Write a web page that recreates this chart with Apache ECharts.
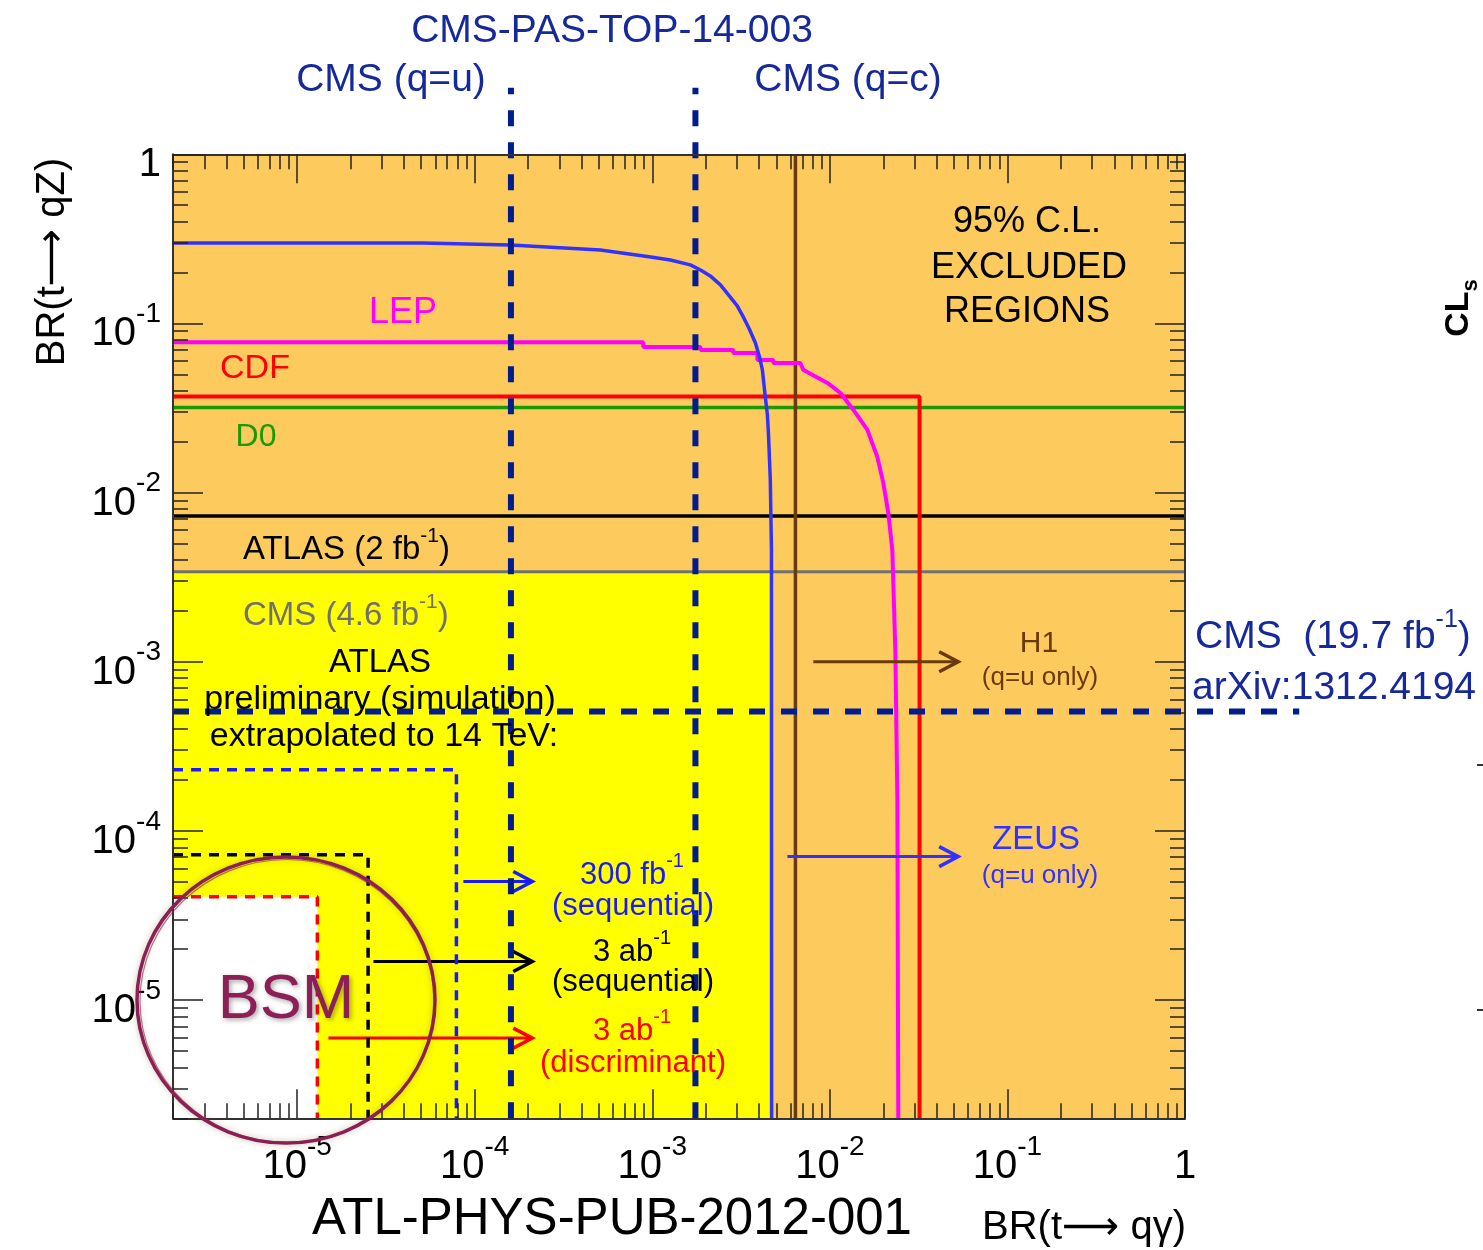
<!DOCTYPE html>
<html><head><meta charset="utf-8">
<script src="https://cdn.jsdelivr.net/npm/echarts@6/dist/echarts.min.js"></script>
<style>html,body{margin:0;padding:0;background:#fff}#c{width:1483px;height:1250px}</style>
</head><body><div id="c"></div>
<script>
// ---------- data (raw values, axes are log10) ----------
const xRange = [2e-6, 1];
const yRange = [2e-6, 1];
const tickExponents = [-5, -4, -3, -2, -1, 0];

const blueLimit = [[2e-6,0.299],[5.1e-5,0.299],[1.59e-4,0.291],[5.1e-4,0.272],[9.8e-4,0.247],[1.265e-3,0.237],[1.638e-3,0.222],[1.87e-3,0.207],[2.12e-3,0.191],[2.42e-3,0.169],[2.75e-3,0.143],[3.01e-3,0.1269],[3.26e-3,0.109],[3.52e-3,0.0928],[3.81e-3,0.0767],[4.01e-3,0.0638],[4.17e-3,0.0531],[4.33e-3,0.0368],[4.45e-3,0.0288],[4.51e-3,0.0225],[4.62e-3,0.0119],[4.69e-3,4.6e-3],[4.7e-3,2e-6]];
const lepLimit = [[2e-6,0.0774],[8.9e-4,0.0774],[8.9e-4,0.0726],[1.87e-3,0.0726],[1.87e-3,0.0697],[2.86e-3,0.0697],[2.86e-3,0.0669],[3.91e-3,0.0669],[3.91e-3,0.0609],[4.81e-3,0.0609],[4.81e-3,0.0584],[6.82e-3,0.0584],[7.1e-3,0.0531],[9.7e-3,0.0445],[0.01148,0.0388],[0.01358,0.0308],[0.01627,0.0235],[0.01851,0.01626],[0.0200,0.01141],[0.02134,7.59e-3],[0.02248,4.58e-3],[0.02338,1.17e-3],[0.0240,1.53e-4],[0.02429,2e-6]];
const cdfLimit = [[2e-6,0.037],[0.032,0.037],[0.032,2e-6]];
const d0Limit = [[2e-6,0.0318],[1,0.0318]];
const atlas2Limit = [[2e-6,7.28e-3],[1,7.28e-3]];
const cms46Limit = [[2e-6,3.41e-3],[1,3.41e-3]];
const h1Limit = [[6.4e-3,2e-6],[6.4e-3,1]];

const atlas300Box = [[2e-6,2.30e-4],[7.89e-5,2.30e-4],[7.89e-5,2e-6]];
const atlas3abSeqBox = [[2e-6,7.22e-5],[2.51e-5,7.22e-5],[2.51e-5,2e-6]];
const atlas3abDiscBox = [[2e-6,4.08e-5],[1.30e-5,4.08e-5],[1.30e-5,2e-6]];

// CMS 19.7 fb-1 limits: [x1, y1, x2, y2]
const cmsQuLimit = [1.60e-4, 2e-6, 1.60e-4, 2.47];
const cmsQcLimit = [1.75e-3, 2e-6, 1.75e-3, 2.47];
const cms197Limit = [2e-6, 5.08e-4, 4.4, 5.08e-4];

const allowedRegion = [2e-6,2e-6,4.69e-3,3.41e-3];
const bsmRegion = [2e-6,2e-6,1.30e-5,4.08e-5];

// arrows: [xStart, xEnd, y]
const h1Arrow = [8.07e-3, 0.0528, 1e-3];
const zeusArrow = [5.77e-3, 0.0528, 7.05e-5];
const arrow300 = [8.63e-5, 2.11e-4, 5.02e-5];
const arrow3abSeq = [2.69e-5, 2.11e-4, 1.69e-5];
const arrow3abDisc = [1.50e-5, 2.11e-4, 5.96e-6];

// ---------- helpers ----------
const L = Math.log10;
const LX0 = L(xRange[0]), LX1 = L(xRange[1]);
const LY0 = L(yRange[0]), LY1 = L(yRange[1]);
const FONT = 'Liberation Sans';
const ARROWFONT = '"Liberation Sans", "DejaVu Sans", sans-serif';
const majorLog = tickExponents.slice();
const minorLog = [];
for (let n = -6; n <= -1; n++) for (let k = 2; k <= 9; k++) {
  const v = L(k) + n; if (v >= LX0 - 1e-9 && v < 0) minorLog.push(v);
}
const toLog = pts => pts.map(p => [L(p[0]), L(p[1])]);

const C = {
  orange:'#FDCA5E', yellow:'#FFFF00', navy:'#001C8E', navyText:'#16299A',
  blue:'#3232FF', magenta:'#FF00FF', red:'#FF0000', green:'#1A9A00',
  gray:'#707070', brown:'#6B3A0C', bsm:'#8C1F56'
};

function lineS(name, pts, color, width, extra) {
  return Object.assign({
    type:'line', name, data: toLog(pts), symbol:'none', showSymbol:false,
    lineStyle:{color, width}, itemStyle:{color}, animation:false, silent:true, z:3
  }, extra || {});
}

const labelRich = {
  b:{fontSize:40, fontFamily:FONT, color:'#000', lineHeight:54, verticalAlign:'bottom'},
  s:{fontSize:28, fontFamily:FONT, color:'#000', lineHeight:28, verticalAlign:'top'}
};
const labelFmt = v => {
  const e = Math.round(v);
  return e === 0 ? '{b|1}' : '{b|10}{s|' + e + '}';
};

function axisBase(min, max, pos, ticks, len, showLine, label) {
  return {
    type:'value', position:pos, min, max, z:6,
    axisLine:{show:showLine, onZero:false, lineStyle:{color:'#333', width:2}},
    axisTick:{show:true, inside:true, length:len, customValues:ticks, lineStyle:{color:'#222', width:1.5}},
    axisLabel: label || {show:false},
    splitLine:{show:false}, minorTick:{show:false}, minorSplitLine:{show:false}
  };
}

const xLabel = {show:true, customValues:majorLog, formatter:labelFmt, rich:labelRich, margin:15, showMinLabel:true, showMaxLabel:true, hideOverlap:false};
const yLabel = {show:true, customValues:majorLog, formatter:labelFmt, rich:labelRich, margin:12, padding:[8,0,0,0], showMinLabel:true, showMaxLabel:true, hideOverlap:false};

function rectItem(params, api) {
  const p0 = api.coord([api.value(0), api.value(1)]);
  const p1 = api.coord([api.value(2), api.value(3)]);
  return {type:'rect', shape:{x:Math.min(p0[0],p1[0]), y:Math.min(p0[1],p1[1]), width:Math.abs(p1[0]-p0[0]), height:Math.abs(p1[1]-p0[1])}, style:{fill:api.visual('color')}};
}
function segItem(params, api) {
  const a = api.coord([api.value(0), api.value(1)]);
  const b = api.coord([api.value(2), api.value(3)]);
  return {type:'line', shape:{x1:a[0], y1:a[1], x2:b[0], y2:b[1]}, style:{stroke:api.visual('color'), lineWidth:6, lineDash:[16,16]}};
}
function arrowItem(params, api) {
  const y = api.value(2);
  const a = api.coord([api.value(0), y]);
  const b = api.coord([api.value(1), y]);
  const c = api.visual('color');
  return {type:'group', children:[
    {type:'line', shape:{x1:a[0], y1:a[1], x2:b[0]-2, y2:b[1]}, style:{stroke:c, lineWidth:3}},
    {type:'polyline', shape:{points:[[b[0]-19,b[1]-10],[b[0],b[1]],[b[0]-19,b[1]+10]]}, style:{stroke:c, lineWidth:3.5, fill:null}}
  ]};
}

function txt(x, y, text, size, color, align, extra) {
  return Object.assign({type:'text', x, y, z:100, silent:true,
    style:{text, fill:color, fontSize:size, fontFamily:FONT, align:align||'center', verticalAlign:'middle', textAlign:align||'center', textVerticalAlign:'middle'}}, extra||{});
}
function supTxt(x, y, parts, size, color, align) {
  const ss = Math.round(size*0.64);
  const rich = {
    n:{fontSize:size, fontFamily:FONT, fill:color, color, lineHeight:Math.round(size*1.25), verticalAlign:'bottom'},
    s:{fontSize:ss, fontFamily:FONT, fill:color, color, lineHeight:ss, verticalAlign:'top'}
  };
  const text = parts.map(p => '{' + p[0] + '|' + p[1] + '}').join('');
  return {type:'text', x, y, z:100, silent:true,
    style:{text, rich, fill:color, fontSize:size, fontFamily:FONT, align:align||'center', verticalAlign:'middle', textAlign:align||'center', textVerticalAlign:'middle'}};
}
function arrowTitle(x, y, parts, size, rot) {
  const rich = {
    n:{fontSize:size, fontFamily:FONT, fill:'#000', color:'#000'},
    a:{fontSize:size, fontFamily:ARROWFONT, fill:'#000', color:'#000'}
  };
  const text = parts.map(p => '{' + p[0] + '|' + p[1] + '}').join('');
  return {type:'text', x, y, z:100, silent:true, rotation:rot||0,
    style:{text, rich, fill:'#000', fontSize:size, fontFamily:FONT, align:'center', verticalAlign:'middle', textAlign:'center', textVerticalAlign:'middle'}};
}

const chart = echarts.init(document.getElementById('c'), null, {renderer:'canvas'});
chart.setOption({
  animation:false,
  backgroundColor:'#ffffff',
  grid:{left:173, top:154.3, width:1012, height:964, show:true, backgroundColor:C.orange, borderWidth:0, containLabel:false, outerBoundsMode:'none'},
  xAxis:[
    axisBase(LX0, LX1, 'bottom', majorLog, 29, true, xLabel),
    axisBase(LX0, LX1, 'bottom', minorLog, 15, false),
    axisBase(LX0, LX1, 'top', majorLog, 29, true),
    axisBase(LX0, LX1, 'top', minorLog, 15, false)
  ],
  yAxis:[
    axisBase(LY0, LY1, 'left', majorLog, 30, true, yLabel),
    axisBase(LY0, LY1, 'left', minorLog, 15, false),
    axisBase(LY0, LY1, 'right', majorLog, 30, true),
    axisBase(LY0, LY1, 'right', minorLog, 15, false)
  ],
  series:[
    {type:'custom', name:'regions', renderItem:rectItem, z:1, silent:true, animation:false,
     encode:{x:[0,2], y:[1,3]},
     data:[
       {value:[L(allowedRegion[0]),L(allowedRegion[1]),L(allowedRegion[2]),L(allowedRegion[3])], itemStyle:{color:C.yellow}},
       {value:[L(bsmRegion[0]),L(bsmRegion[1]),L(bsmRegion[2]),L(bsmRegion[3])], itemStyle:{color:'#FFFFFF'}}
     ]},
    lineS('CMS 4.6', cms46Limit, C.gray, 3),
    lineS('ATLAS 2', atlas2Limit, '#000000', 3.5),
    lineS('D0', d0Limit, C.green, 3.5),
    lineS('CDF', cdfLimit, C.red, 4),
    lineS('H1', h1Limit, C.brown, 3.5),
    lineS('LEP', lepLimit, C.magenta, 4),
    lineS('ZEUS', blueLimit, C.blue, 3.5),
    lineS('300fb', atlas300Box, '#1A1AFF', 3.5, {lineStyle:{color:'#1A1AFF', width:3.5, type:[10,8]}, z:4}),
    lineS('3ab seq', atlas3abSeqBox, '#000000', 3.5, {lineStyle:{color:'#000', width:3.5, type:[10,8]}, z:4}),
    lineS('3ab disc', atlas3abDiscBox, C.red, 3.5, {lineStyle:{color:C.red, width:3.5, type:[10,8]}, z:4}),
    {type:'custom', name:'arrows', renderItem:arrowItem, z:4, silent:true, animation:false,
     encode:{x:[0,1], y:2},
     data:[
       {value:[L(h1Arrow[0]),L(h1Arrow[1]),L(h1Arrow[2])], itemStyle:{color:C.brown}},
       {value:[L(zeusArrow[0]),L(zeusArrow[1]),L(zeusArrow[2])], itemStyle:{color:C.blue}},
       {value:[L(arrow300[0]),L(arrow300[1]),L(arrow300[2])], itemStyle:{color:'#1A1AFF'}},
       {value:[L(arrow3abSeq[0]),L(arrow3abSeq[1]),L(arrow3abSeq[2])], itemStyle:{color:'#000000'}},
       {value:[L(arrow3abDisc[0]),L(arrow3abDisc[1]),L(arrow3abDisc[2])], itemStyle:{color:C.red}}
     ]},
    {type:'custom', name:'CMS 19.7 fb-1', renderItem:segItem, z:5, silent:true, animation:false, clip:false,
     encode:{x:[0,2], y:[1,3]},
     data:[cmsQuLimit, cmsQcLimit, cms197Limit].map(s => ({value:[L(s[0]),L(s[1]),L(s[2]),L(s[3])], itemStyle:{color:C.navy}}))}
  ],
  graphic:[
    txt(612, 31, 'CMS-PAS-TOP-14-003', 39, C.navyText),
    txt(391, 80, 'CMS (q=u)', 39, C.navyText),
    txt(848, 80, 'CMS (q=c)', 39, C.navyText),
    txt(1027, 222, '95% C.L.', 36, '#000'),
    txt(1029, 268, 'EXCLUDED', 36, '#000'),
    txt(1027, 312, 'REGIONS', 36, '#000'),
    txt(403, 313, 'LEP', 36, C.magenta),
    txt(255, 369, 'CDF', 34, C.red),
    txt(256, 437, 'D0', 32, C.green),
    supTxt(243, 546, [['n','ATLAS (2 fb'],['s','-1'],['n',')']], 33, '#000', 'left'),
    supTxt(243, 612, [['n','CMS (4.6 fb'],['s','-1'],['n',')']], 33, C.gray, 'left'),
    txt(380, 663, 'ATLAS', 33, '#000'),
    txt(380, 700, 'preliminary (simulation)', 34, '#000'),
    txt(384, 737, 'extrapolated to 14 TeV:', 34, '#000'),
    txt(1039, 644, 'H1', 30, C.brown),
    txt(1040, 678, '(q=u only)', 26, C.brown),
    txt(1036, 840, 'ZEUS', 33, C.blue),
    txt(1040, 876, '(q=u only)', 26, C.blue),
    supTxt(632, 871, [['n','300 fb'],['s','-1']], 31, '#1A1AFF'),
    txt(633, 906, '(sequential)', 31, '#1A1AFF'),
    supTxt(632, 948, [['n','3 ab'],['s','-1']], 31, '#000'),
    txt(633, 982, '(sequential)', 31, '#000'),
    supTxt(632, 1027, [['n','3 ab'],['s','-1']], 31, C.red),
    txt(633, 1063, '(discriminant)', 31, C.red),
    supTxt(1195, 632, [['n','CMS  (19.7 fb'],['s','-1'],['n',')']], 39, C.navyText, 'left'),
    txt(1192, 688, 'arXiv:1312.4194', 39, C.navyText, 'left'),
    {type:'text', x:1462, y:308, rotation:Math.PI/2, z:100, silent:true,
     style:{text:'{c|CL}{s|s}', rich:{c:{fontSize:34, fontWeight:'bold', fontFamily:FONT, fill:'#000', lineHeight:40, verticalAlign:'top'}, s:{fontSize:22, fontWeight:'bold', fontFamily:FONT, fill:'#000', lineHeight:22, verticalAlign:'bottom'}}, align:'center', verticalAlign:'middle', textAlign:'center', textVerticalAlign:'middle'}},
    {type:'line', z:100, silent:true, shape:{x1:1477, y1:765, x2:1483, y2:765}, style:{stroke:'#333', lineWidth:2}},
    {type:'line', z:100, silent:true, shape:{x1:1477, y1:1010, x2:1483, y2:1010}, style:{stroke:'#333', lineWidth:2}},
    txt(612, 1220, 'ATL-PHYS-PUB-2012-001', 51, '#000'),
    arrowTitle(1084, 1228, [['n','BR(t'],['a','\u27F6'],['n',' q\u03B3)']], 40),
    arrowTitle(53, 262, [['n','BR(t'],['a','\u27F6'],['n',' qZ)']], 40, Math.PI/2),
    {type:'ellipse', z:101, silent:true, shape:{cx:286, cy:1000, rx:149, ry:143},
     style:{fill:null, stroke:C.bsm, lineWidth:3.5, shadowBlur:6, shadowColor:'rgba(80,80,0,0.35)'}},
    {type:'ellipse', z:101, silent:true, shape:{cx:287, cy:1001, rx:147, ry:141.5},
     style:{fill:null, stroke:C.bsm, lineWidth:1.2, opacity:0.6}},
    txt(286, 1001, 'BSM', 63, C.bsm, 'center', {z:102, style:{text:'BSM', fill:C.bsm, fontSize:63, fontFamily:FONT, align:'center', verticalAlign:'middle', textAlign:'center', textVerticalAlign:'middle', textShadowBlur:5, textShadowColor:'rgba(0,0,0,0.35)', textShadowOffsetX:2, textShadowOffsetY:2}})
  ]
});
</script>
</body></html>
